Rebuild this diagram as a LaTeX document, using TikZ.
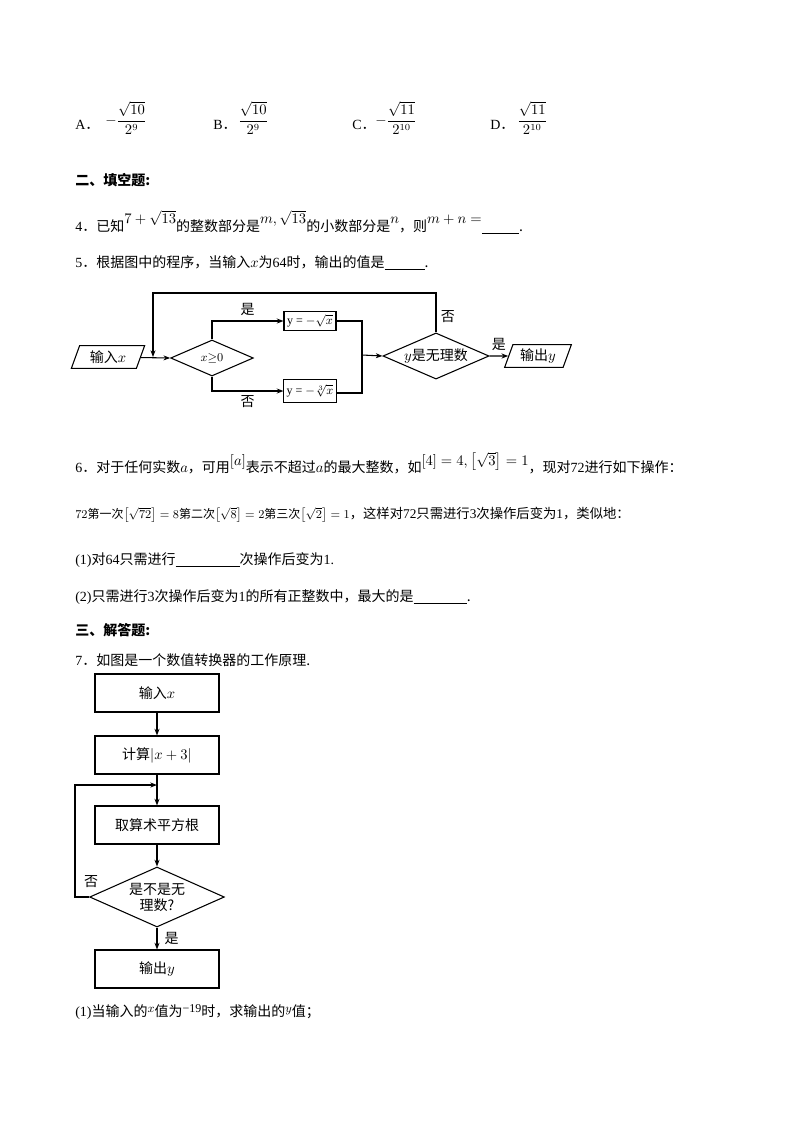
\documentclass[tikz,border=0pt]{standalone}
\usepackage{amsmath}
\usepackage{fontspec}
\setmainfont{Noto Sans CJK SC}
\newfontfamily\lat{Liberation Serif}
\usetikzlibrary{shapes.geometric,arrows.meta}
\begin{document}
\begin{tikzpicture}[x=0.75pt,y=-0.75pt,font=\fontsize{10.5}{12}\selectfont,
 txt/.style={anchor=west,inner sep=0pt},
 fbox/.style={draw,line width=0.8pt,minimum width=39pt,minimum height=14pt,inner sep=1pt},
 para/.style={draw,line width=0.8pt,trapezium,trapezium left angle=70,trapezium right angle=110,minimum height=17pt,minimum width=45pt,inner sep=1pt},
 dia/.style={draw,line width=0.8pt,diamond,aspect=2.3,inner sep=1pt},
 bbox/.style={draw,line width=0.8pt,minimum width=93pt,minimum height=28.5pt},
 arr/.style={line width=0.8pt,-{Stealth[length=5pt]}},
 ln/.style={line width=0.8pt}]
\useasboundingbox (0,0) rectangle (800,1132);
% options
\node[txt] (oa) at (75,125) {\lat A\rm ．};
\node[txt] (fa) at (105,118) {$-\dfrac{\sqrt{10}}{2^9}$};
\node[txt] (ob) at (213,125) {\lat B\rm ．};
\node[txt] (fb) at (238,118) {$\dfrac{\sqrt{10}}{2^9}$};
\node[txt] (oc) at (352,125) {\lat C\rm ．};
\node[txt] (fc) at (375,118) {$-\dfrac{\sqrt{11}}{2^{10}}$};
\node[txt] (od) at (490,125) {\lat D\rm ．};
\node[txt] (fd) at (517,118) {$\dfrac{\sqrt{11}}{2^{10}}$};
\node[txt] (h2) at (75,180) {\bfseries 二、填空题:};
\node[txt] (q4) at (75,222) {\lat 4\rm ．已知\raisebox{6pt}{$7+\sqrt{13}$}的整数部分是\raisebox{6pt}{$m,\sqrt{13}$}的小数部分是\raisebox{6pt}{$n$}，则\raisebox{6pt}{$m+n=$}\underline{\hspace{28pt}}.};
\node[txt] (q5) at (75,263) {\lat 5\rm ．根据图中的程序，当输入$x$为\lat 64\rm 时，输出的值是\underline{\hspace{30pt}}.};
% flowchart 1
\node[para] (in1) at (108,357) {输入$x$};
\node[dia,minimum width=62pt,minimum height=27pt] (d1) at (212,358) {\small$x{\geq}0$};
\node[fbox] (b1) at (310,321) {\small\lat y = $-\sqrt{x}$};
\node[fbox,minimum height=17pt,inner sep=2pt] (b2) at (310,391) {\small\lat y = $-\sqrt[3]{x}$};
\node[dia,minimum width=68pt,minimum height=30pt] (d2) at (436,356) {$y$是无理数};
\node[para,minimum width=50pt] (out1) at (538,356) {输出$y$};
\coordinate (j1) at (153,357);
\coordinate (m) at (362,355);
\draw[arr] (in1) -- (d1.west);
\draw[arr] (d1.north) |- (b1.west) node[pos=0.75,above] {是};
\draw[arr] (d1.south) |- (b2.west) node[pos=0.75,below] {否};
\draw[ln] (b1.east) -| (362,393) -- (b2.east |- 0,393);
\draw[arr] (m) -- (d2.west);
\draw[arr] (d2.east) -- (out1) node[midway,above] {是};
\draw[arr] (d2.north) -- (436,293) node[pos=0.4,right] {否} -| (j1);
% q6
\node[txt] (q6) at (75,463) {\lat 6\rm ．对于任何实数$a$，可用\raisebox{5pt}{$[a]$}表示不超过$a$的最大整数，如\raisebox{5pt}{$[4]=4,\left[\sqrt3\right]=1$}，现对\lat 72\rm 进行如下操作：};
\node[txt] (q6b) at (75,515) {\small$72$第一次$\left[\sqrt{72}\right]=8$第二次$\left[\sqrt8\right]=2$第三次$\left[\sqrt2\right]=1$\normalsize，这样对\lat 72\rm 只需进行\lat 3\rm 次操作后变为\lat 1\rm，类似地：};
\node[txt] (q61) at (75,560) {\lat (1)\rm 对\lat 64\rm 只需进行\underline{\hspace{48pt}}次操作后变为\lat 1.};
\node[txt] (q62) at (75,597) {\lat (2)\rm 只需进行\lat 3\rm 次操作后变为\lat 1\rm 的所有正整数中，最大的是\underline{\hspace{40pt}}.};
\node[txt] (h3) at (75,630) {\bfseries 三、解答题:};
\node[txt] (q7) at (75,660) {\lat 7\rm ．如图是一个数值转换器的工作原理.};
% flowchart 2
\node[bbox] (c1) at (157,693) {输入$x$};
\node[bbox] (c2) at (157,755) {计算$|x+3|$};
\node[bbox] (c3) at (157,825) {取算术平方根};
\node[draw,line width=0.8pt,diamond,aspect=2.25,minimum width=101pt,minimum height=45pt,inner sep=0pt,align=center] (c4) at (157,897) {是不是无\\理数?};
\node[bbox] (c5) at (157,969) {输出$y$};
\coordinate (lp) at (157,785);
\draw[arr] (c1) -- (c2);
\draw[arr] (c2) -- (c3);
\draw[arr] (c3) -- (c4);
\draw[arr] (c4) -- (c5) node[midway,right=2pt] {是};
\draw[arr] (c4.west) -| (75,785) -- (lp);
\node (no2) at (91,882) {否};
\node[txt] (q71) at (75,1012) {\lat (1)\rm 当输入的\raisebox{3pt}{\small$x$}值为\raisebox{3pt}{\small\lat −19}时，求输出的\raisebox{3pt}{\small$y$}值；};
\end{tikzpicture}
\end{document}
